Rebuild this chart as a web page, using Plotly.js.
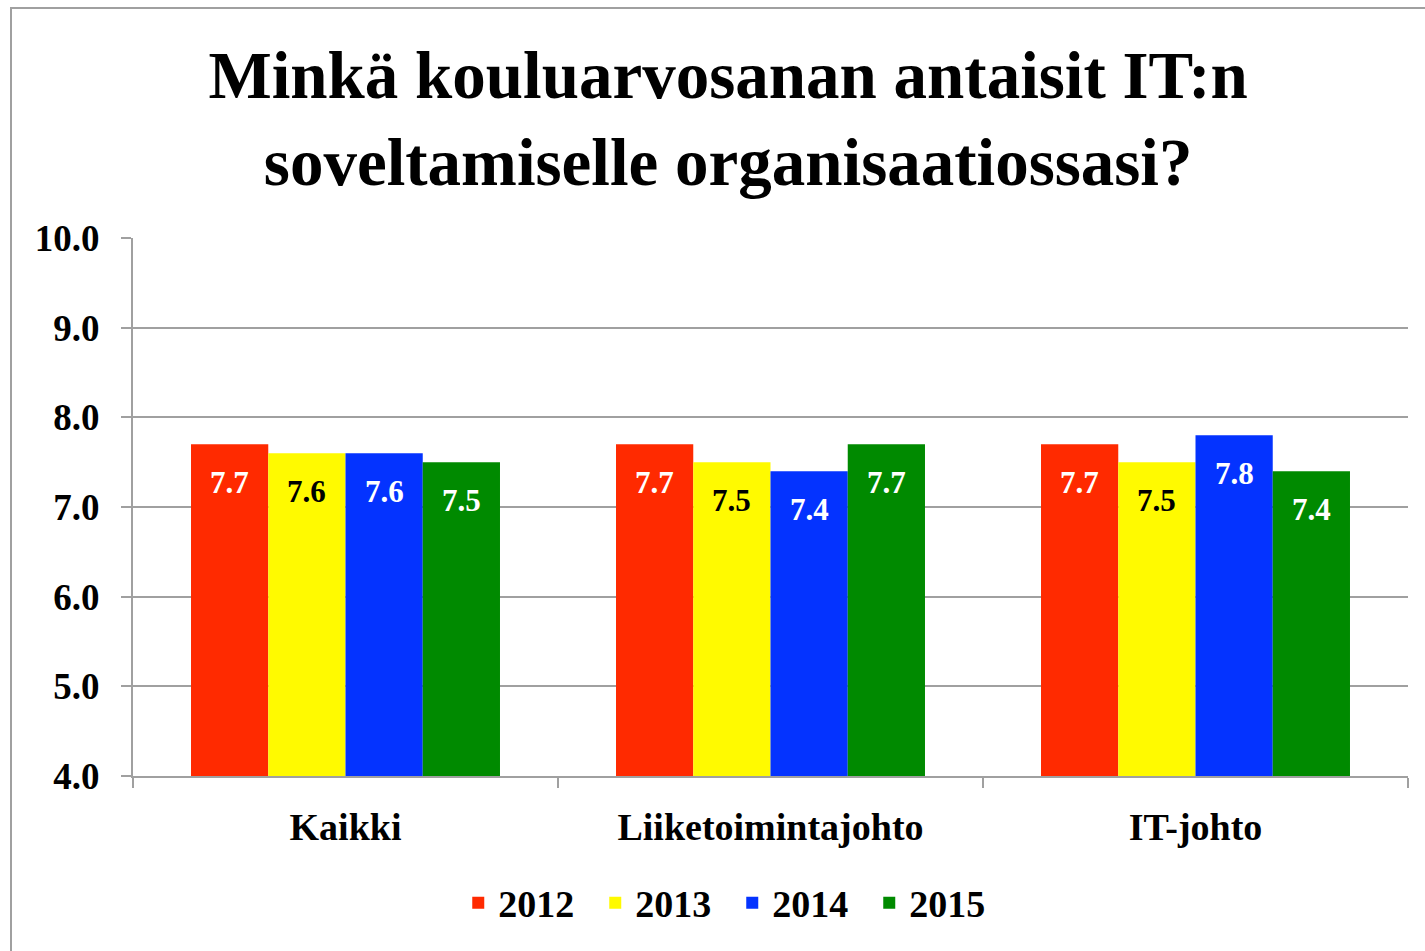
<!DOCTYPE html>
<html><head><meta charset="utf-8">
<script src="https://cdn.plot.ly/plotly-3.0.1.min.js"></script>
<style>
html,body{margin:0;padding:0;overflow:hidden;background:#fff}
#chart{position:absolute;left:0;top:0;width:1425px;height:951px}
#frame{position:absolute;left:10px;top:7px;width:1440px;height:990px;border:2px solid #a0a0a0;pointer-events:none}
</style></head><body>
<div id="chart"></div><div id="frame"></div>
<script>
const categories = ['Kaikki', 'Liiketoimintajohto', 'IT-johto'];
const years = ['2012', '2013', '2014', '2015'];
const values2012 = [7.7, 7.7, 7.7];
const values2013 = [7.6, 7.5, 7.5];
const values2014 = [7.6, 7.4, 7.8];
const values2015 = [7.5, 7.7, 7.4];
const series = [values2012, values2013, values2014, values2015];
const colors = ['#FF2A00', '#FFFA00', '#0433FF', '#008A00'];
const labelColors = ['#ffffff', '#000000', '#ffffff', '#ffffff'];

const FONT = '"Liberation Serif", "Times New Roman", serif';
const bargap = 0.273;
const barW = (1 - bargap) / series.length;

const traces = series.map((vals, s) => ({
  type: 'bar',
  name: years[s],
  x: categories,
  y: vals,
  marker: {color: colors[s], line: {width: 0}},
  hoverinfo: 'x+y+name'
}));

const annotations = [];
series.forEach((vals, s) => {
  const off = -(1 - bargap) / 2 + barW * (s + 0.5);
  vals.forEach((v, i) => {
    annotations.push({
      x: i + off, y: v, xref: 'x', yref: 'y',
      text: v.toFixed(1), showarrow: false,
      yanchor: 'middle', xanchor: 'center', yshift: -38,
      font: {family: FONT, size: 31, color: labelColors[s], weight: 'bold'}
    });
  });
});

const layout = {
  width: 1425, height: 951,
  paper_bgcolor: '#ffffff', plot_bgcolor: '#ffffff',
  margin: {l: 133, r: 17, t: 238, b: 175, autoexpand: false},
  title: {
    text: 'Minkä kouluarvosanan antaisit IT:n<br>soveltamiselle organisaatiossasi?',
    font: {family: FONT, size: 67, color: '#000', weight: 'bold'},
    xref: 'container', x: 0.511, xanchor: 'center',
    yref: 'container', y: 0.897, yanchor: 'middle'
  },
  barmode: 'group', bargap: bargap, bargroupgap: 0,
  xaxis: {
    type: 'category', showline: true, linecolor: '#a0a0a0', linewidth: 2,
    ticks: 'outside', tickson: 'boundaries', ticklen: 10, tickwidth: 2, tickcolor: '#a0a0a0',
    showgrid: false, ticklabelstandoff: 16,
    tickfont: {family: FONT, size: 38, color: '#000', weight: 'bold'}
  },
  yaxis: {
    range: [4, 10], dtick: 1, tickformat: '.1f', showline: true, linecolor: '#a0a0a0', linewidth: 2,
    ticks: 'outside', ticklen: 10, tickwidth: 2, tickcolor: '#a0a0a0',
    showgrid: true, gridcolor: '#a0a0a0', gridwidth: 2, zeroline: false,
    ticklabelstandoff: 14,
    tickfont: {family: FONT, size: 37, color: '#000', weight: 'bold'}
  },
  showlegend: true,
  legend: {
    orientation: 'h', x: 0.47, xanchor: 'center', y: -0.236, yanchor: 'middle',
    font: {family: FONT, size: 38, color: '#000', weight: 'bold'},
    traceorder: 'normal', entrywidth: 92, entrywidthmode: 'pixels'
  },
  annotations: annotations
};

Plotly.newPlot('chart', traces, layout, {displayModeBar: false, staticPlot: true});
</script>
</body></html>
